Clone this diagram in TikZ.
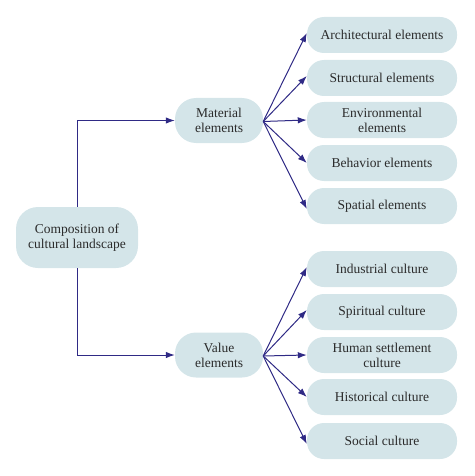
\documentclass[tikz,border=0pt]{standalone}
\usepackage{fontspec}
\setmainfont{Liberation Serif}
\usetikzlibrary{arrows.meta}
\definecolor{boxfill}{HTML}{D4E5E9}
\definecolor{arrowc}{HTML}{2F2A85}
\definecolor{txt}{HTML}{2B2B2B}
\begin{document}
\begin{tikzpicture}[x=1pt,y=-1pt,
  pill/.style={rounded corners=17pt, fill=boxfill, draw=none, text=txt,
    align=center, inner sep=0pt, font=\fontsize{13.5}{15}\selectfont},
  leaf/.style={pill, minimum width=150pt, minimum height=36pt},
  mid/.style={pill, minimum width=88pt, minimum height=45pt, rounded corners=21pt},
  conn/.style={draw=arrowc, line width=1pt, -{Latex[length=9pt,width=6.5pt]}}]
\useasboundingbox (0,0) rectangle (474,476);
\node[pill, minimum width=122pt, minimum height=61pt, rounded corners=22pt] (root) at (77,237.5) {Composition of\\cultural landscape};
\node[mid] (mat) at (219,120.5) {Material\\elements};
\node[mid] (val) at (219,355) {Value\\elements};
\node[leaf] (a1) at (382,35) {Architectural elements};
\node[leaf] (a2) at (382,78) {Structural elements};
\node[leaf] (a3) at (382,120) {Environmental\\elements};
\node[leaf] (a4) at (382,163) {Behavior elements};
\node[leaf] (a5) at (382,206) {Spatial elements};
\node[leaf] (b1) at (382,269) {Industrial culture};
\node[leaf] (b2) at (382,312) {Spiritual culture};
\node[leaf] (b3) at (382,355) {Human settlement\\culture};
\node[leaf] (b4) at (382,397) {Historical culture};
\node[leaf] (b5) at (382,441) {Social culture};
\draw[conn] (root.north) |- (mat.west);
\draw[conn] (root.south) |- (val.west);
\coordinate (ms) at ([yshift=-1pt]mat.east);
\coordinate (vs) at ([yshift=-1pt]val.east);
\foreach \n/\dy in {a1/2,a2/2,a3/0,a4/0,a5/-3} \draw[conn] (ms) -- ([yshift=\dy pt]\n.west);
\foreach \n/\dy in {b1/2,b2/2,b3/0,b4/0,b5/-3} \draw[conn] (vs) -- ([yshift=\dy pt]\n.west);
\end{tikzpicture}
\end{document}
